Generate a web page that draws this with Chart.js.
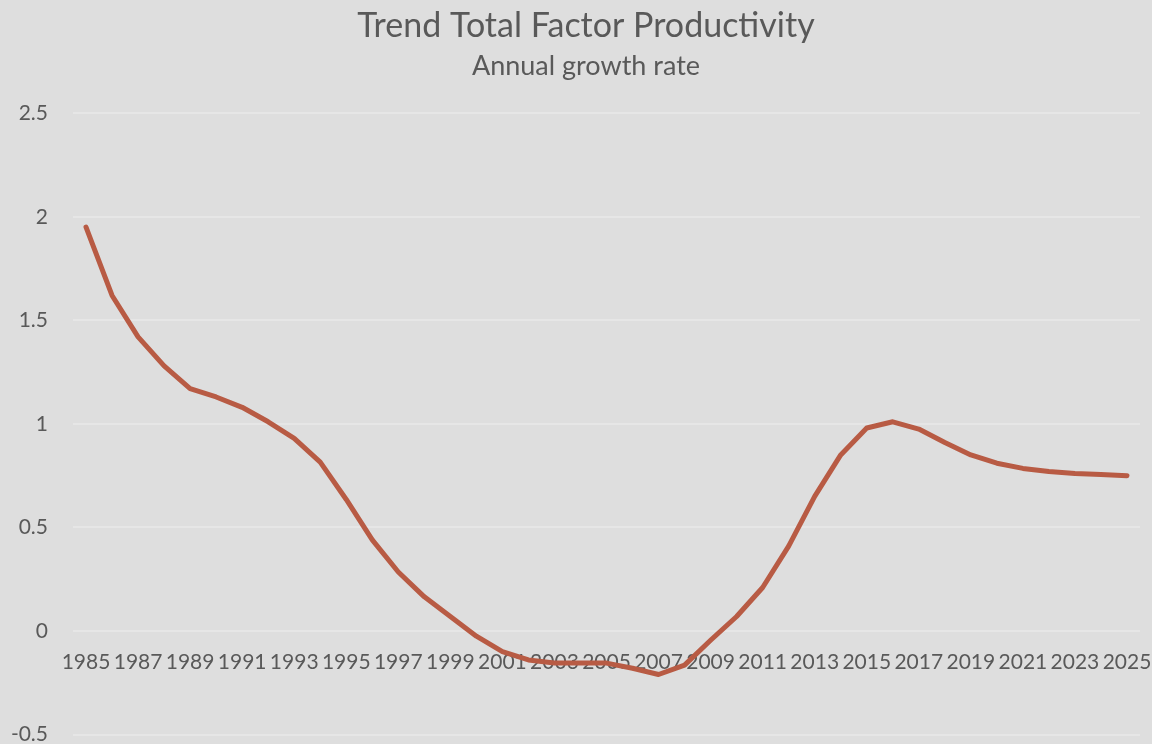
<!DOCTYPE html>
<html>
<head>
<meta charset="utf-8">
<title>Trend Total Factor Productivity</title>
<script src="https://cdn.jsdelivr.net/npm/chart.js@4.4.1/dist/chart.umd.min.js"></script>
<style>
    html, body {
        margin: 0;
        padding: 0;
        background: #dedede;
    }
    #chartBox {
        width: 1152px;
        height: 744px;
    }
</style>
</head>
<body>
<div id="chartBox">
    <canvas id="tfpChart"></canvas>
</div>
<script>
// Chart data
const years = [
    '1985', '1986', '1987', '1988', '1989', '1990', '1991', '1992', '1993', '1994',
    '1995', '1996', '1997', '1998', '1999', '2000', '2001', '2002', '2003', '2004',
    '2005', '2006', '2007', '2008', '2009', '2010', '2011', '2012', '2013', '2014',
    '2015', '2016', '2017', '2018', '2019', '2020', '2021', '2022', '2023', '2024',
    '2025'
];

const tfpGrowth = [
    1.95, 1.62, 1.42, 1.28, 1.17, 1.13, 1.08, 1.01, 0.93, 0.815,
    0.635, 0.44, 0.285, 0.165, 0.07, -0.025, -0.10, -0.14, -0.155, -0.155,
    -0.155, -0.18, -0.21, -0.165, -0.045, 0.07, 0.21, 0.41, 0.65, 0.85,
    0.98, 1.01, 0.975, 0.91, 0.85, 0.81, 0.785, 0.77, 0.76, 0.755,
    0.75
];

const yTicks = [-0.5, 0, 0.5, 1, 1.5, 2, 2.5];

const textColor = '#595959';
const fontFamily = 'Lato, "Open Sans", sans-serif';

// Nudge title + subtitle a little right, like the original
const titleShift = {
    id: 'titleShift',
    afterLayout(chart) {
        chart.boxes.forEach(box => {
            if (box.options && box.options.text !== undefined && box.options.display) {
                box.left += 20;
            }
        });
    }
};

document.addEventListener('DOMContentLoaded', function() {
    const ctx = document.getElementById('tfpChart');

    new Chart(ctx, {
        type: 'line',
        data: {
            labels: years,
            datasets: [{
                label: 'Trend TFP',
                data: tfpGrowth,
                borderColor: '#b85b44',
                borderWidth: 5,
                pointRadius: 0,
                tension: 0,
                borderCapStyle: 'round',
                borderJoinStyle: 'round',
                fill: false
            }]
        },
        plugins: [titleShift],
        options: {
            responsive: true,
            maintainAspectRatio: false,
            animation: false,
            layout: {
                padding: { left: 12, right: 12, top: 6, bottom: 0 }
            },
            plugins: {
                legend: { display: false },
                tooltip: { enabled: false },
                title: {
                    display: true,
                    text: 'Trend Total Factor Productivity',
                    color: textColor,
                    font: { family: fontFamily, size: 34, weight: 'normal' },
                    padding: { top: 0, bottom: 0 }
                },
                subtitle: {
                    display: true,
                    text: 'Annual growth rate',
                    color: textColor,
                    font: { family: fontFamily, size: 27, weight: 'normal' },
                    padding: { top: 3, bottom: 31 }
                }
            },
            scales: {
                x: {
                    position: { y: 0 },
                    offset: true,
                    afterFit: function(scale) {
                        // axis sits inside the plot, labels may overhang the edges
                        scale.height = 0;
                        scale.paddingLeft = 0;
                        scale.paddingRight = 0;
                    },
                    grid: { display: false, drawTicks: false },
                    border: { display: false },
                    ticks: {
                        color: textColor,
                        font: { family: fontFamily, size: 21 },
                        autoSkip: false,
                        maxRotation: 0,
                        padding: 19,
                        callback: function(value, index) {
                            return index % 2 === 0 ? years[index] : '';
                        }
                    }
                },
                y: {
                    min: yTicks[0],
                    max: yTicks[yTicks.length - 1],
                    afterBuildTicks: function(scale) {
                        scale.ticks = yTicks.map(v => ({ value: v }));
                    },
                    afterFit: function(scale) {
                        scale.width = 61;
                    },
                    grid: {
                        color: '#e6e6e6',
                        lineWidth: 2,
                        drawTicks: true,
                        tickLength: 25,
                        tickColor: 'rgba(0,0,0,0)'
                    },
                    border: { display: false },
                    ticks: {
                        color: textColor,
                        font: { family: fontFamily, size: 21, lineHeight: 0.9 },
                        padding: 0,
                        callback: function(value) {
                            return String(value);
                        }
                    }
                }
            }
        }
    });
});
</script>
</body>
</html>
